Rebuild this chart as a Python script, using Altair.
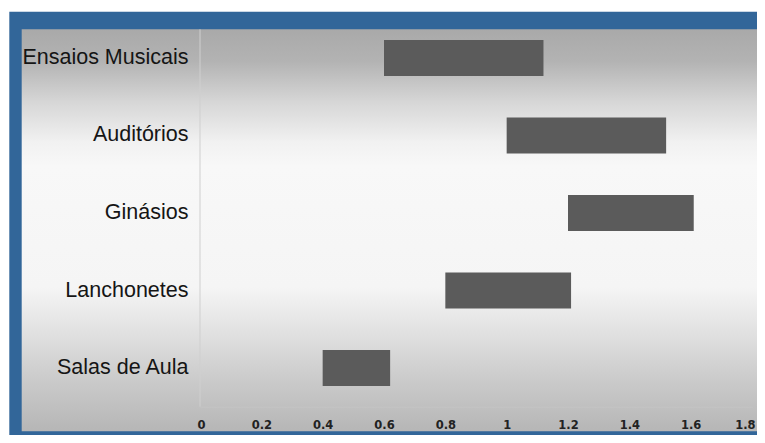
import altair as alt
import pandas as pd

categories = ["Ensaios Musicais", "Auditórios", "Ginásios", "Lanchonetes", "Salas de Aula"]
starts = [0.6, 1.0, 1.2, 0.8, 0.4]
ends = [1.12, 1.52, 1.61, 1.21, 0.62]
tick_values = [0, 0.2, 0.4, 0.6, 0.8, 1.0, 1.2, 1.4, 1.6, 1.8]

df = pd.DataFrame({"cat": categories, "start": starts, "end": ends})
one = alt.Data(values=[{"k": 1}])

# Decorative blue frame and grey gradient panel (pixel positions relative to plot origin)
frame = alt.Chart(one).mark_rect(color="#326699").encode(
    x=alt.value(-190.7), x2=alt.value(600), y=alt.value(-7.55), y2=alt.value(416)
)
panel = alt.Chart(one).mark_rect(
    color=alt.Gradient(
        gradient="linear",
        x1=0, x2=0, y1=0, y2=1,
        stops=[
            alt.GradientStop(offset=0.0, color="#a9a9a9"),
            alt.GradientStop(offset=0.08, color="#b3b3b3"),
            alt.GradientStop(offset=0.18, color="#d6d6d6"),
            alt.GradientStop(offset=0.28, color="#f1f1f1"),
            alt.GradientStop(offset=0.34, color="#f8f8f8"),
            alt.GradientStop(offset=0.64, color="#f5f5f5"),
            alt.GradientStop(offset=0.76, color="#e0e0e0"),
            alt.GradientStop(offset=0.87, color="#cbcbcb"),
            alt.GradientStop(offset=1.0, color="#b6b6b6"),
        ],
    )
).encode(
    x=alt.value(-178.3), x2=alt.value(620), y=alt.value(10.05), y2=alt.value(412)
)

yline = alt.Chart(one).mark_rule(color="#cfcfcf", strokeWidth=1).encode(
    x=alt.value(0), y=alt.value(10.05), y2=alt.value(387.5)
)

bars = alt.Chart(df).mark_bar(color="#5b5b5b").encode(
    x=alt.X(
        "start:Q",
        scale=alt.Scale(domain=[0, 1.8], nice=False),
        axis=alt.Axis(
            title=None, values=tick_values, format="~g", grid=False, ticks=False,
            labelFont="DejaVu Sans", labelFontSize=11.5, labelFontWeight="bold",
            labelColor="#222222", labelPadding=13, domainColor="#c4c4c4",
            labelFlush=5, labelFlushOffset=3, zindex=1,
        ),
    ),
    x2="end:Q",
    y=alt.Y(
        "cat:N", sort=categories,
        scale=alt.Scale(paddingInner=0.5355, paddingOuter=0.2677),
        axis=alt.Axis(
            title=None, grid=False, ticks=False, domain=False,
            labelFont="Liberation Sans", labelFontSize=21.5,
            labelColor="#151515", labelPadding=12, labelLimit=400, zindex=1,
        ),
    ),
)

chart = alt.layer(frame, panel, yline, bars).properties(
    width=552, height=387.5,
    autosize=alt.AutoSizeParams(type="none"),
    padding={"left": 192, "top": 11.25, "right": 5, "bottom": 28.25},
    background="white",
).configure_view(stroke=None)

chart.save("out.html", embed_options={"renderer": "svg", "actions": False})
